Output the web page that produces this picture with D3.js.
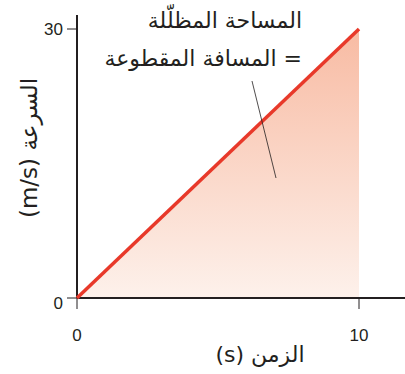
<!DOCTYPE html>
<html>
<head>
  <meta charset="UTF-8">
  <script src="https://cdn.jsdelivr.net/npm/d3@7"></script>
  <style>
    body { margin: 0; background: #fff; }
    text { font-family: "DejaVu Sans", "Liberation Sans", sans-serif; fill: #231f20; }
  </style>
</head>
<body>
<script>
  // data
  var times = [0, 10];
  var speeds = [0, 30];
  var xTicks = [0, 10];
  var yTicks = [0, 30];
  var xTitle = "الزمن (s)";
  var yTitle = "السرعة (m/s)";
  var note = ["المساحة المظلّلة", "= المسافة المقطوعة"];

  var width = 405, height = 374;
  var x = d3.scaleLinear().domain([0, 10]).range([77, 359]);
  var y = d3.scaleLinear().domain([0, 30]).range([298, 29]);

  var svg = d3.select("body").append("svg")
    .attr("width", width)
    .attr("height", height);

  var grad = svg.append("defs").append("linearGradient")
    .attr("id", "shade")
    .attr("x1", 0).attr("y1", 0).attr("x2", 0).attr("y2", 1);
  grad.append("stop").attr("offset", "0%").attr("stop-color", "#f8bba3");
  grad.append("stop").attr("offset", "100%").attr("stop-color", "#fdf1eb");

  var pts = times.map(function (t, i) { return [t, speeds[i]]; });

  // shaded area under the line
  svg.append("path")
    .datum(pts)
    .attr("fill", "url(#shade)")
    .attr("d", d3.area()
      .x(function (d) { return x(d[0]); })
      .y0(y(0))
      .y1(function (d) { return y(d[1]); }));

  // axes
  svg.append("line")
    .attr("x1", x(0)).attr("x2", x(0))
    .attr("y1", 15).attr("y2", y(0))
    .attr("stroke", "#231f20").attr("stroke-width", 2);
  svg.append("line")
    .attr("x1", x(0)).attr("x2", 405)
    .attr("y1", y(0)).attr("y2", y(0))
    .attr("stroke", "#231f20").attr("stroke-width", 2);

  svg.selectAll(".ytick").data(yTicks).enter().append("line")
    .attr("x1", x(0) - 10).attr("x2", x(0))
    .attr("y1", function (d) { return y(d); })
    .attr("y2", function (d) { return y(d); })
    .attr("stroke", "#231f20").attr("stroke-width", 1);
  svg.selectAll(".ylab").data(yTicks).enter().append("text")
    .attr("x", x(0) - 14)
    .attr("y", function (d) { return y(d) + 6 + (d === 0 ? 5 : 0); })
    .attr("text-anchor", "end")
    .style("font-size", "17px")
    .style("font-family", "Liberation Sans, Arial, sans-serif")
    .text(function (d) { return d; });

  svg.selectAll(".xtick").data(xTicks).enter().append("line")
    .attr("x1", function (d) { return x(d); })
    .attr("x2", function (d) { return x(d); })
    .attr("y1", y(0)).attr("y2", y(0) + 11)
    .attr("stroke", "#231f20").attr("stroke-width", 1);
  svg.selectAll(".xlab").data(xTicks).enter().append("text")
    .attr("x", function (d) { return x(d); })
    .attr("y", 341)
    .attr("text-anchor", "middle")
    .style("font-size", "17px")
    .style("font-family", "Liberation Sans, Arial, sans-serif")
    .text(function (d) { return d; });

  // red line
  svg.append("path")
    .datum(pts)
    .attr("fill", "none")
    .attr("stroke", "#e8392a")
    .attr("stroke-width", 3.5)
    .attr("d", d3.line()
      .x(function (d) { return x(d[0]); })
      .y(function (d) { return y(d[1]); }));

  // titles (right-to-left text)
  svg.append("text")
    .attr("x", 260).attr("y", 362)
    .attr("text-anchor", "middle")
    .attr("direction", "rtl")
    .style("font-size", "22px")
    .text(xTitle);
  svg.append("text")
    .attr("transform", "translate(37,148) rotate(-90)")
    .attr("text-anchor", "middle")
    .attr("direction", "rtl")
    .style("font-size", "23px")
    .text(yTitle);

  // annotation, right aligned
  svg.selectAll(".note").data(note).enter().append("text")
    .attr("x", 302)
    .attr("y", function (d, i) { return 28 + i * 38; })
    .attr("text-anchor", "start")
    .attr("direction", "rtl")
    .style("font-size", "22px")
    .text(function (d) { return d; });
  svg.append("line")
    .attr("x1", 252).attr("y1", 81)
    .attr("x2", 276).attr("y2", 178)
    .attr("stroke", "#231f20").attr("stroke-width", 0.8);
</script>
</body>
</html>
